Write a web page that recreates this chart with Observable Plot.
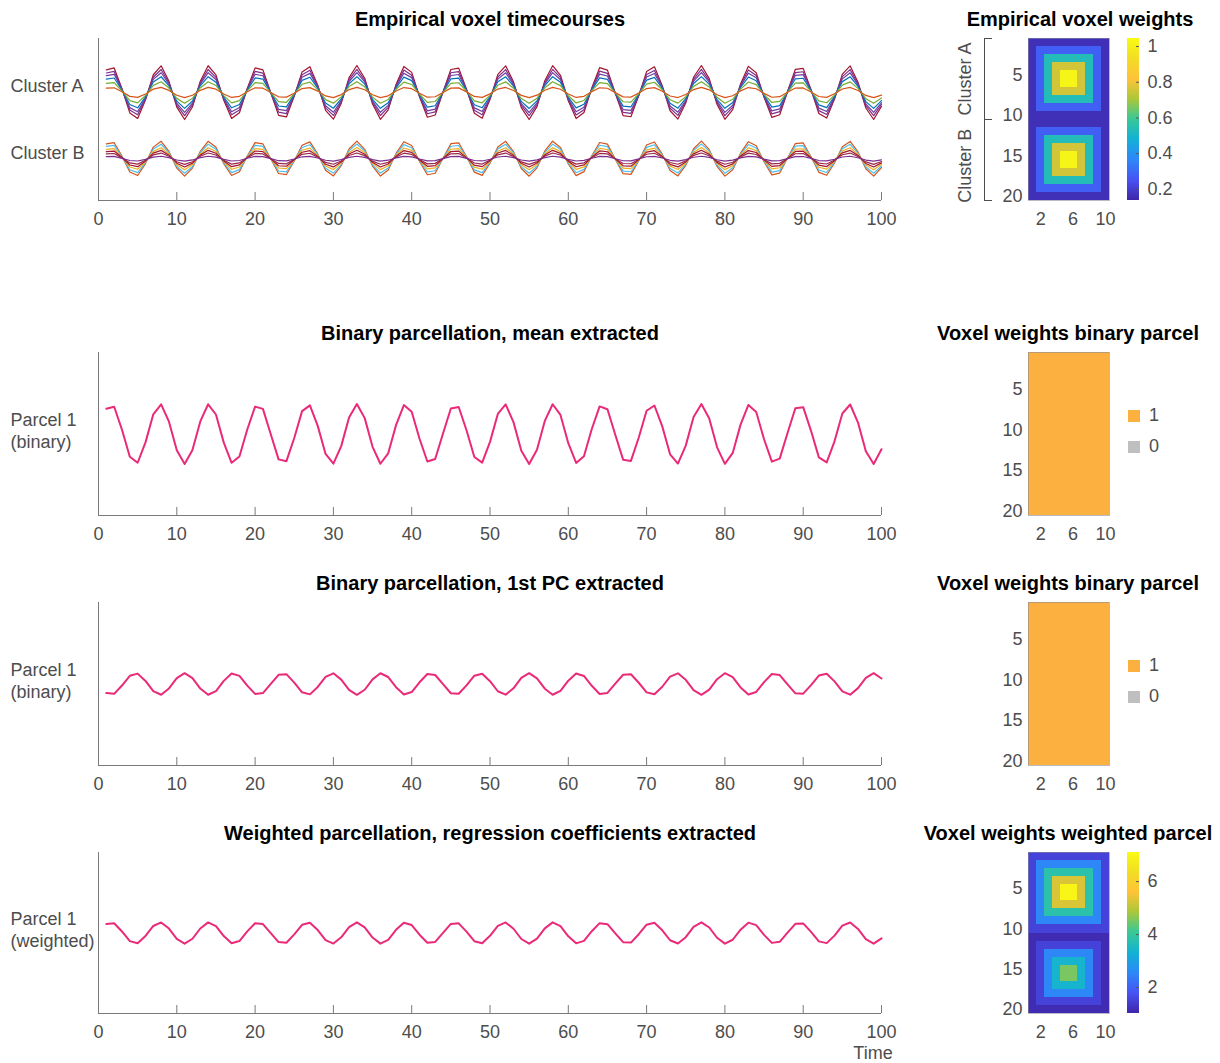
<!DOCTYPE html>
<html><head><meta charset="utf-8">
<script src="https://cdn.jsdelivr.net/npm/d3@7"></script>
<script src="https://cdn.jsdelivr.net/npm/@observablehq/plot@0.6"></script>
<style>
body{margin:0;background:#fff;}
#root{position:relative;width:1220px;height:1063px;overflow:hidden;font-family:"Liberation Sans",Arial,Helvetica,sans-serif;}
.box{position:absolute;}
.title{position:absolute;font-weight:bold;font-size:20px;color:#000;white-space:nowrap;transform:translate(-50%,-50%);}
.lbl{position:absolute;font-size:18px;color:#4d4d4d;white-space:nowrap;transform:translate(-50%,-50%);}
.binleg-swatch{padding-bottom:10px !important;margin:0 !important;}
</style></head><body><div id="root"></div><script>
// ---------------- data ----------------
const signal = [0.841,0.909,0.141,-0.757,-0.959,-0.279,0.657,0.989,0.412,-0.544,
 -1.000,-0.537,0.420,0.991,0.650,-0.288,-0.961,-0.751,0.150,0.913,
 0.837,-0.009,-0.846,-0.906,-0.132,0.763,0.956,0.271,-0.664,-0.988,
 -0.404,0.551,1.000,0.529,-0.428,-0.992,-0.644,0.296,0.964,0.745,
 -0.159,-0.917,-0.832,0.018,0.851,0.902,0.124,-0.768,-0.954,-0.262,
 0.670,0.987,0.396,-0.559,-1.000,-0.522,0.436,0.993,0.637,-0.305,
 -0.966,-0.739,0.167,0.920,0.827,-0.027,-0.856,-0.898,-0.115,0.774,
 0.951,0.254,-0.677,-0.985,-0.388,0.566,0.999,0.514,-0.444,-0.994,
 -0.630,0.313,0.968,0.733,-0.176,-0.923,-0.822,0.035,0.860,0.894,
 0.106,-0.780,-0.948,-0.245,0.683,0.984,0.380,-0.574,-0.999,-0.506];
const xTicks = [0,10,20,30,40,50,60,70,80,90,100];

const clusterNames = ["Cluster A","Cluster B"];
const clusterOffsets = [1.0, -1.45];
const clusterLabelPos = [1.22, -1.26];
const bracketLabelPos = [5.5, 16.2];
const ampsA = [1.00,0.86,0.74,0.59,0.40,0.19];
const colorsA = ["#A2142F","#7E2F8E","#6F3D9C","#0072BD","#77AC30","#D95319"];
const ampsB = [0.65,0.54,0.41,0.31,0.21,0.09];
const colorsB = ["#D95319","#4DBEEE","#EDB120","#A2142F","#9A2A4A","#7E2F8E"];

const extractedNames = ["mean","pc","weighted"];
const extractedAmps = [0.368,-0.133,0.133];
const parcelLabels = ["Parcel 1\n(binary)","Parcel 1\n(binary)","Parcel 1\n(weighted)"];

const hmXTicks = [2,6,10];
const hmYTicks = [5,10,15,20];
const empiricalRingA = [0.16,0.28,0.53,0.76,1.02];
const empiricalRingB = [0.16,0.28,0.53,0.76,1.02];
const empiricalDomain = [0.138,1.045];
const empiricalTicks = [0.2,0.4,0.6,0.8,1];
const weightedRingA = [1.5,2.54,3.82,5.25,6.95];
const weightedRingB = [1.12,1.5,2.54,3.4,4.5];
const weightedDomain = [1.02,7.1];
const weightedTicks = [2,4,6];
const binaryParcelRows = [1,1,1,1,1,1,1,1,1,1,1,1,1,1,1,1,1,1,1,1];
const binaryLegend = ["1","0"];
const ORANGE = "#FBB040", GRAY = "#BFBFBF", PINK = "#EA2A78";
const parula = ["#3E26A8","#4852F4","#2D87F7","#12B1D6","#37C897","#ABC739","#FEC338","#F2DD24","#F9FB14"];

// ---------------- helpers ----------------
const FONT = '"Liberation Sans", Arial, Helvetica, sans-serif';
const TEXT = "#4d4d4d", AXIS = "#7a7a7a";
const root = document.getElementById("root");
function place(node, left, top){ const d=document.createElement("div"); d.className="box"; d.style.left=left+"px"; d.style.top=top+"px"; d.appendChild(node); root.appendChild(d); }
function title(txt, x, y, cls="title"){ const d=document.createElement("div"); d.className=cls; d.textContent=txt; d.style.left=x+"px"; d.style.top=y+"px"; root.appendChild(d); }
const baseStyle = {fontFamily: FONT, fontSize: "18px", color: TEXT, background: "transparent", overflow: "visible"};
const MT = 10, MB = 40;
const cmap = d3.piecewise(d3.interpolateRgb, parula);

function linePanel({top, bottom, yDomain, marks, labels, labelDy}){
  const h = bottom - top;
  const p = Plot.plot({
    width: 900, height: h + MT + MB,
    marginLeft: 98, marginRight: 19, marginTop: MT, marginBottom: MB,
    style: baseStyle,
    x: {domain: [0,100], label: null},
    y: {domain: yDomain, axis: null, label: null},
    marks: [
      Plot.ruleX([0], {stroke: AXIS}),
      Plot.ruleY([yDomain[0]], {stroke: AXIS}),
      Plot.tickX(xTicks, {x: d=>d, insetTop: h-8, stroke: AXIS}),
      Plot.axisX({ticks: xTicks, tickSize: 0, tickPadding: 12, label: null, tickFormat: d=>String(d)}),
      Plot.text(labels, {y: "pos", text: "name", frameAnchor: "left", textAnchor: "start", dx: -88, dy: labelDy, lineHeight: 1.25, fill: TEXT, fontSize: 18}),
      ...marks
    ]
  });
  place(p, 0, top - MT);
}

function ringCells(ringA, ringB){
  const cells = [];
  for (let r = 1; r <= 20; r++) for (let c = 1; c <= 10; c++){
    const rr = r <= 10 ? r : r - 10;
    const k = Math.min(c-1, 10-c, rr-1, 10-rr);
    cells.push({row: r, col: c, v: (r <= 10 ? ringA : ringB)[k]});
  }
  return cells;
}

function heatPanel({top, bottom, cells, color, extra=[]}){
  const h = bottom - top, ml = 88, pw = 81;
  const p = Plot.plot({
    width: ml + pw + 10, height: h + MT + MB,
    marginLeft: ml, marginRight: 10, marginTop: MT, marginBottom: MB,
    style: baseStyle,
    x: {domain: [0.5,10.5], label: null},
    y: {domain: [20.5,0.5], label: null},
    color,
    marks: [
      Plot.rect(cells, {x1: d=>d.col-0.5, x2: d=>d.col+0.5, y1: d=>d.row-0.5, y2: d=>d.row+0.5, fill: "v", shapeRendering: "crispEdges"}),
      Plot.frame({stroke: "#8c8c9c", strokeOpacity: 0.6}),
      Plot.axisX({ticks: hmXTicks, tickSize: 0, tickPadding: 12, label: null, tickFormat: d=>String(d)}),
      Plot.axisY({ticks: hmYTicks, tickSize: 0, tickPadding: 6, label: null, tickFormat: d=>String(d)}),
      ...extra
    ]
  });
  place(p, 940, top - MT);
}

function colorbar({top, bottom, domain, ticks}){
  const h = bottom - top;
  const n = 160, stops = d3.range(n).map(i => {
    const lo = domain[0] + (domain[1]-domain[0])*i/n, hi = domain[0] + (domain[1]-domain[0])*(i+1)/n;
    return {lo, hi, mid: (lo+hi)/2};
  });
  const p = Plot.plot({
    width: 7 + 12 + 60, height: h + MT + MB,
    marginLeft: 7, marginRight: 60, marginTop: MT, marginBottom: MB,
    style: baseStyle,
    y: {domain, label: null},
    color: {type: "linear", domain, interpolate: cmap},
    marks: [
      Plot.rect(stops, {y1: "lo", y2: "hi", fill: "mid", shapeRendering: "crispEdges"}),
      Plot.tickY(ticks, {y: d=>d, insetLeft: 9, stroke: "#555"}),
      Plot.axisY({anchor: "right", ticks, tickSize: 0, tickPadding: 8, label: null, tickFormat: d=>String(d)})
    ]
  });
  place(p, 1120, top - MT);
}

function binaryLegendAt(top){
  const lg = Plot.legend({
    color: {type: "ordinal", domain: binaryLegend, range: [ORANGE, GRAY]},
    legend: "swatches", columns: 1, swatchSize: 12, className: "binleg",
    style: {fontFamily: FONT, fontSize: "18px", color: TEXT}
  });
  place(lg, 1128, top);
}

// ---------------- panel 1 ----------------
const empRows = [];
ampsA.forEach((a, i) => signal.forEach((s, j) => empRows.push({t: j+1, v: clusterOffsets[0] + a*s, series: "A"+i, color: colorsA[i]})));
ampsB.forEach((a, i) => signal.forEach((s, j) => empRows.push({t: j+1, v: clusterOffsets[1] + a*s, series: "B"+i, color: colorsB[i]})));
linePanel({top: 38, bottom: 200, yDomain: [-3,3], labelDy: -2,
  labels: clusterNames.map((n,i)=>({name: n, pos: clusterLabelPos[i]})),
  marks: [Plot.line(empRows, {x: "t", y: "v", z: "series", stroke: d=>d.color, strokeWidth: 1.2})]});

const empCells = ringCells(empiricalRingA, empiricalRingB);
const empColor = {type: "linear", domain: empiricalDomain, interpolate: cmap};
heatPanel({top: 38, bottom: 200, cells: empCells, color: empColor, extra: [
  Plot.ruleX([0.5], {dx: -44, stroke: TEXT}),
  Plot.tickY([0.5,10.5,20.5], {y: d=>d, dx: -44, insetRight: 81-8, stroke: TEXT}),
  Plot.text(clusterNames.map((n,i)=>({name:n, pos: bracketLabelPos[i]})), {y: "pos", text: "name", frameAnchor: "left", textAnchor: "middle", rotate: -90, dx: -63, fill: TEXT, fontSize: 18})
]});
colorbar({top: 38, bottom: 200, domain: empiricalDomain, ticks: empiricalTicks});

// ---------------- panels 2-4 ----------------
const panelTops = [352, 602, 852], panelBottoms = [515, 765, 1013];
extractedNames.forEach((nm, i) => {
  const rows = signal.map((s, j) => ({t: j+1, v: extractedAmps[i]*s}));
  linePanel({top: panelTops[i], bottom: panelBottoms[i], yDomain: [-1,1], labelDy: -4,
    labels: [{name: parcelLabels[i], pos: 0}],
    marks: [Plot.line(rows, {x: "t", y: "v", stroke: PINK, strokeWidth: 2})]});
});

const binCells = [];
binaryParcelRows.forEach((v, r) => { for (let c = 1; c <= 10; c++) binCells.push({row: r+1, col: c, v: String(v)}); });
const binColor = {type: "ordinal", domain: ["0","1"], range: [GRAY, ORANGE]};
[0,1].forEach(i => {
  heatPanel({top: panelTops[i], bottom: panelBottoms[i], cells: binCells, color: binColor});
  binaryLegendAt(panelTops[i] + 53);
});

const wCells = ringCells(weightedRingA, weightedRingB);
const wColor = {type: "linear", domain: weightedDomain, interpolate: cmap};
heatPanel({top: 852, bottom: 1013, cells: wCells, color: wColor});
colorbar({top: 852, bottom: 1013, domain: weightedDomain, ticks: weightedTicks});

// ---------------- titles ----------------
title("Empirical voxel timecourses", 490, 19);
title("Empirical voxel weights", 1080, 19);
title("Binary parcellation, mean extracted", 490, 333);
title("Voxel weights binary parcel", 1068, 333);
title("Binary parcellation, 1st PC extracted", 490, 583);
title("Voxel weights binary parcel", 1068, 583);
title("Weighted parcellation, regression coefficients extracted", 490, 833);
title("Voxel weights weighted parcel", 1068, 833);
title("Time", 873, 1053, "lbl");
</script></body></html>
